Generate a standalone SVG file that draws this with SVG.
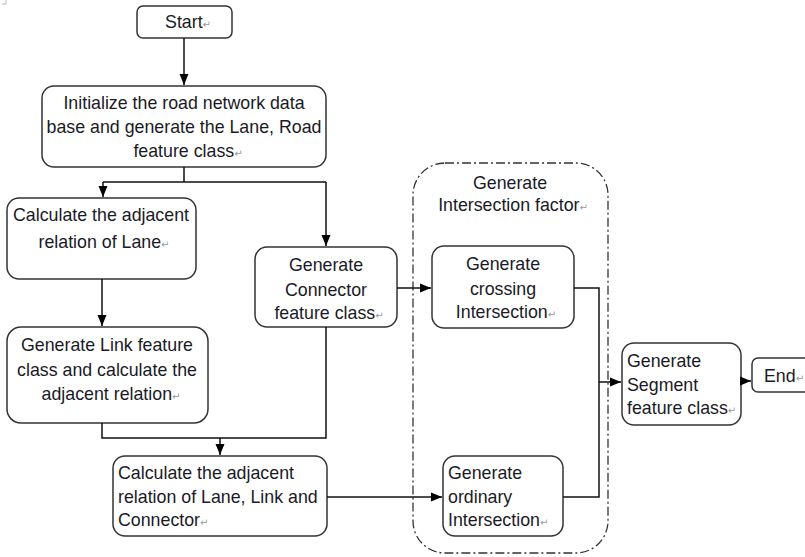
<svg xmlns="http://www.w3.org/2000/svg" width="805" height="557" viewBox="0 0 805 557">
<defs>
<marker id="ah" markerUnits="userSpaceOnUse" markerWidth="12" markerHeight="10" refX="11" refY="5" orient="auto">
<path d="M0,0.5 L11,5 L0,9.5 Z" fill="#000"/>
</marker>
<style>
.box{fill:#fff;stroke:#333;stroke-width:1.5}
.grp{fill:none;stroke:#333;stroke-width:1.3;stroke-dasharray:9 3 2 3}
.t{font-family:"Liberation Sans",Arial,sans-serif;font-size:17.8px;fill:#1a1a26}
.c{text-anchor:middle}
.r{fill:#9a9a9a;font-family:"DejaVu Sans",sans-serif;font-size:10px}
.ln{fill:none;stroke:#111;stroke-width:1.5}
</style>
</defs>
<rect width="805" height="557" fill="#fff"/>
<path d="M6,0 V4 H2" fill="none" stroke="#bbb" stroke-width="1"/>

<g id="group-intersection">
<rect class="grp" x="413" y="163" width="195" height="390" rx="32"/>
<text class="t c" x="510" y="189">Generate</text>
<text class="t c" x="513" y="211">Intersection factor<tspan class="r">↵</tspan></text>
</g>

<g id="n-start">
<rect class="box" x="137" y="6" width="95" height="32" rx="6"/>
<text class="t c" x="188" y="28">Start<tspan class="r">↵</tspan></text>
</g>

<g id="n-init">
<rect class="box" x="42" y="86" width="284" height="81" rx="12"/>
<text class="t c" x="184" y="109">Initialize the road network data</text>
<text class="t c" x="184" y="133">base and generate the Lane, Road</text>
<text class="t c" x="188" y="157">feature class<tspan class="r">↵</tspan></text>
</g>

<g id="n-lane">
<rect class="box" x="7" y="198" width="189" height="81" rx="12"/>
<text class="t c" x="101" y="221">Calculate the adjacent</text>
<text class="t c" x="104" y="248">relation of Lane<tspan class="r">↵</tspan></text>
</g>

<g id="n-link">
<rect class="box" x="7" y="327" width="201" height="96" rx="14"/>
<text class="t c" x="107" y="351">Generate Link feature</text>
<text class="t c" x="107" y="376">class and calculate the</text>
<text class="t c" x="111" y="400">adjacent relation<tspan class="r">↵</tspan></text>
</g>

<g id="n-connector">
<rect class="box" x="255" y="247" width="142" height="80" rx="12"/>
<text class="t c" x="326" y="271">Generate</text>
<text class="t c" x="326" y="296">Connector</text>
<text class="t c" x="329" y="319">feature class<tspan class="r">↵</tspan></text>
</g>

<g id="n-adjall">
<rect class="box" x="113" y="456" width="214" height="80" rx="12"/>
<text class="t" x="118" y="479">Calculate the adjacent</text>
<text class="t" x="118" y="503">relation of Lane, Link and</text>
<text class="t" x="118" y="526">Connector<tspan class="r">↵</tspan></text>
</g>

<g id="n-crossing">
<rect class="box" x="432" y="246" width="142" height="82" rx="12"/>
<text class="t c" x="503" y="270">Generate</text>
<text class="t c" x="503" y="295">crossing</text>
<text class="t c" x="506" y="318">Intersection<tspan class="r">↵</tspan></text>
</g>

<g id="n-ordinary">
<rect class="box" x="443" y="456" width="120" height="80" rx="12"/>
<text class="t" x="448" y="479">Generate</text>
<text class="t" x="448" y="503">ordinary</text>
<text class="t" x="448" y="526">Intersection<tspan class="r">↵</tspan></text>
</g>

<g id="n-segment">
<rect class="box" x="622" y="343" width="119" height="82" rx="12"/>
<text class="t" x="627" y="367">Generate</text>
<text class="t" x="627" y="391">Segment</text>
<text class="t" x="627" y="414">feature class<tspan class="r">↵</tspan></text>
</g>

<g id="n-end">
<rect class="box" x="752" y="358" width="70" height="34" rx="6"/>
<text class="t" x="764" y="382" font-size="17">End<tspan class="r">↵</tspan></text>
</g>

<g id="connectors">
<path class="ln" d="M184,38 V85" marker-end="url(#ah)"/>
<path class="ln" d="M184,167 V182 M103,182 H326"/>
<path class="ln" d="M103,182 V197" marker-end="url(#ah)"/>
<path class="ln" d="M326,182 V246" marker-end="url(#ah)"/>
<path class="ln" d="M102,279 V326" marker-end="url(#ah)"/>
<path class="ln" d="M102,423 V438 H326 V327"/>
<path class="ln" d="M220,438 V455" marker-end="url(#ah)"/>
<path class="ln" d="M397,288 H431" marker-end="url(#ah)"/>
<path class="ln" d="M327,497 H442" marker-end="url(#ah)"/>
<path class="ln" d="M574,288 H599 V497 H563"/>
<path class="ln" d="M599,382 H621" marker-end="url(#ah)"/>
<path class="ln" d="M741,381 H751" marker-end="url(#ah)"/>
</g>
</svg>
